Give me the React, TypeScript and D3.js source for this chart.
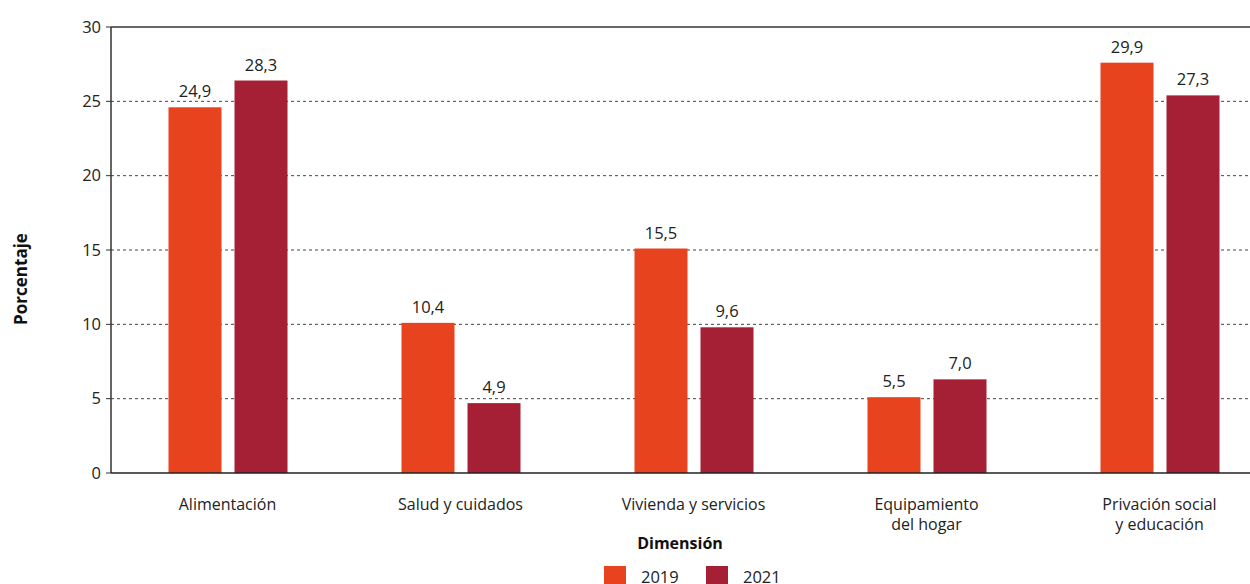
import React, { useRef, useEffect } from "react";
import * as d3 from "d3";

// categories (multi-line labels)
const categories = [
  ["Alimentación"],
  ["Salud y cuidados"],
  ["Vivienda y servicios"],
  ["Equipamiento", "del hogar"],
  ["Privación social", "y educación"],
];
const series = ["2019", "2021"];
// bar heights as drawn in the picture
const values2019 = [24.6, 10.1, 15.1, 5.1, 27.6];
const values2021 = [26.4, 4.7, 9.8, 6.3, 25.4];
// printed labels above the bars
const labels2019 = ["24,9", "10,4", "15,5", "5,5", "29,9"];
const labels2021 = ["28,3", "4,9", "9,6", "7,0", "27,3"];
const yTicks = [0, 5, 10, 15, 20, 25, 30];

const colors = ["#E8431F", "#A52035"];

const App = () => {
  const svgRef = useRef<SVGSVGElement>(null);
  const width = 1250;
  const height = 584;
  const margin = { top: 27, right: -26, bottom: 111, left: 111 };

  useEffect(() => {
    const svg = d3.select(svgRef.current);
    svg.selectAll("*").remove();
    const font = "'Open Sans', sans-serif";
    const numSize = "16.5px";

    const x = d3
      .scaleBand()
      .domain(categories.map((_, i) => String(i)))
      .range([margin.left, width - margin.right]);
    const y = d3
      .scaleLinear()
      .domain([0, 30])
      .range([height - margin.bottom, margin.top]);

    // gridlines
    svg
      .selectAll(".grid")
      .data(yTicks.filter((t) => t > 0))
      .enter()
      .append("line")
      .attr("x1", margin.left)
      .attr("x2", width)
      .attr("y1", (d) => y(d))
      .attr("y2", (d) => y(d))
      .attr("stroke", (d) => (d === 30 ? "#333" : "#444"))
      .attr("stroke-width", (d) => (d === 30 ? 1.5 : 1))
      .attr("stroke-dasharray", (d) => (d === 30 ? null : "3,3"));

    // tick marks + labels
    svg
      .selectAll(".tick")
      .data(yTicks)
      .enter()
      .append("line")
      .attr("x1", margin.left - 5)
      .attr("x2", margin.left)
      .attr("y1", (d) => y(d))
      .attr("y2", (d) => y(d))
      .attr("stroke", "#333");
    svg
      .selectAll(".ylab")
      .data(yTicks)
      .enter()
      .append("text")
      .attr("x", margin.left - 10)
      .attr("y", (d) => y(d))
      .attr("dy", "0.35em")
      .attr("text-anchor", "end")
      .style("font-family", font)
      .style("font-size", numSize)
      .style("fill", "#222")
      .text((d) => d);

    const vals = [values2019, values2021];
    const labs = [labels2019, labels2021];
    const barW = 53;
    const offsets = [-59, 7];

    series.forEach((s, si) => {
      svg
        .selectAll(".bar" + si)
        .data(vals[si])
        .enter()
        .append("rect")
        .attr("x", (_, i) => x(String(i))! + x.bandwidth() / 2 + offsets[si])
        .attr("y", (d) => y(d))
        .attr("width", barW)
        .attr("height", (d) => y(0) - y(d))
        .attr("fill", colors[si]);
      svg
        .selectAll(".val" + si)
        .data(vals[si])
        .enter()
        .append("text")
        .attr("x", (_, i) => x(String(i))! + x.bandwidth() / 2 + offsets[si] + barW / 2)
        .attr("y", (d) => y(d) - 10)
        .attr("text-anchor", "middle")
        .style("font-family", font)
        .style("font-size", numSize)
        .style("fill", "#222")
        .text((_, i) => labs[si][i]);
    });

    // axes lines
    svg
      .append("line")
      .attr("x1", margin.left)
      .attr("x2", margin.left)
      .attr("y1", y(30))
      .attr("y2", y(0))
      .attr("stroke", "#333")
      .attr("stroke-width", 1.5);
    svg
      .append("line")
      .attr("x1", margin.left)
      .attr("x2", width)
      .attr("y1", y(0))
      .attr("y2", y(0))
      .attr("stroke", "#222")
      .attr("stroke-width", 1.5);

    // category labels
    categories.forEach((lines, i) => {
      const t = svg
        .append("text")
        .attr("x", x(String(i))! + x.bandwidth() / 2)
        .attr("y", 510)
        .attr("text-anchor", "middle")
        .style("font-family", font)
        .style("font-size", "16px")
        .style("fill", "#222");
      lines.forEach((l, li) => {
        t.append("tspan")
          .attr("x", x(String(i))! + x.bandwidth() / 2)
          .attr("dy", li === 0 ? 0 : 20)
          .text(l);
      });
    });

    // y title
    svg
      .append("text")
      .attr("transform", `translate(27, 279) rotate(-90)`)
      .attr("text-anchor", "middle")
      .style("font-family", font)
      .style("font-size", "17px")
      .style("font-weight", "bold")
      .style("fill", "#111")
      .text("Porcentaje");

    // legend
    svg
      .append("text")
      .attr("x", 680)
      .attr("y", 549)
      .attr("text-anchor", "middle")
      .style("font-family", font)
      .style("font-size", "16px")
      .style("font-weight", "bold")
      .style("fill", "#111")
      .text("Dimensión");

    const legendX = [604, 706];
    series.forEach((s, si) => {
      svg
        .append("rect")
        .attr("x", legendX[si])
        .attr("y", 566)
        .attr("width", 22)
        .attr("height", 22)
        .attr("fill", colors[si]);
      svg
        .append("text")
        .attr("x", legendX[si] + 37)
        .attr("y", 583)
        .style("font-family", font)
        .style("font-size", numSize)
        .style("fill", "#222")
        .text(s);
    });
  }, []);

  return (
    <svg
      ref={svgRef}
      width={width}
      height={height}
      style={{ position: "absolute", left: 0, top: 0 }}
    ></svg>
  );
};

export default App;
